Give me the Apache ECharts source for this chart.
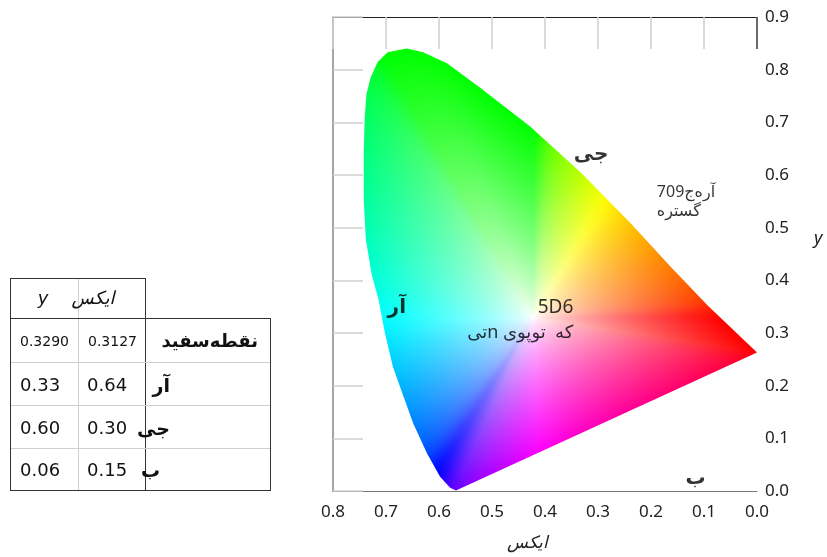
<!DOCTYPE html>
<html>
<head>
<meta charset="utf-8">
<script src="https://cdn.jsdelivr.net/npm/echarts@6/dist/echarts.min.js"></script>
<style>
  html, body { margin: 0; padding: 0; background: #fff; }
  #chart { position: absolute; left: 0; top: 0; width: 827px; height: 557px; direction: rtl; }
  #table { position: absolute; left: 0; top: 0; width: 827px; height: 557px; pointer-events: none;
           font-family: "DejaVu Sans", sans-serif; color: #111; }
  .ln { position: absolute; }
  .t { position: absolute; white-space: nowrap; height: 30px; line-height: 30px; }
</style>
</head>
<body>
<div id="chart"></div>
<div id="table"></div>
<script>
// Outline of the colour region (x as shown on the reversed axis, y upward)
const locusX = [0.000, 0.093, 0.163, 0.238, 0.333, 0.428, 0.523, 0.585, 0.630, 0.661,
                0.697, 0.716, 0.729, 0.737, 0.740, 0.742, 0.742, 0.738, 0.727, 0.714,
                0.702, 0.687, 0.670, 0.649, 0.623, 0.598, 0.579, 0.568];
const locusY = [0.263, 0.352, 0.426, 0.508, 0.605, 0.692, 0.766, 0.812, 0.833, 0.840,
                0.833, 0.814, 0.785, 0.753, 0.711, 0.648, 0.553, 0.477, 0.411, 0.363,
                0.300, 0.236, 0.188, 0.129, 0.072, 0.027, 0.006, 0.001];
// Where the colour field turns white
const fillCentre = [0.4223, 0.329];

// Primaries and white point
const primaryNames = ['آر', 'جی', 'ب'];
const primaryX = [0.64, 0.30, 0.15];
const primaryY = [0.33, 0.60, 0.06];
const whitePoint = [0.3127, 0.3290];
const whiteLabels = ['5D6', 'که  توپوی nتی'];
const gamutLabels = ['آره‌ج709', 'گستره'];
const gamutNoteAt = [0.189, 0.55];
const tableTitle = 'نقطه‌سفید';
const colHeadX = 'ایکس';
const colHeadY = 'y';

// The colour field is laid out from the red tip, so its chromaticity x is measured back from there.
const RED_TIP_X = 0.735;
function tint(v, y) {
  const cx = RED_TIP_X - v, cy = Math.max(y, 0.002);
  const X = cx / cy, Z = (1 - cx - cy) / cy;
  let r = 3.2406 * X - 1.5372 - 0.4986 * Z;
  let g = -0.9689 * X + 1.8758 + 0.0415 * Z;
  let b = 0.0557 * X - 0.2040 + 1.0570 * Z;
  r = Math.max(r, 0); g = Math.max(g, 0); b = Math.max(b, 0);
  const m = Math.max(r, g, b) || 1;
  return [r, g, b].map(c => 255 * Math.pow(c / m, 1 / 2.2));
}
function lerp(a, b, t) { return [a[0] + (b[0] - a[0]) * t, a[1] + (b[1] - a[1]) * t]; }

// Soften sudden hue changes along the rim
function smoothRing(cols, half) {
  const n = cols.length;
  return cols.map((_, k) => {
    const acc = [0, 0, 0];
    let wsum = 0;
    for (let d = -half; d <= half; d++) {
      const w = half + 1 - Math.abs(d);
      const c = cols[(k + d + n) % n];
      acc[0] += c[0] * w; acc[1] += c[1] * w; acc[2] += c[2] * w;
      wsum += w;
    }
    return acc.map(v => v / wsum);
  });
}

// Paints the colour field: each pixel blends from white at the centre to the rim colour
// met by the ray through it.
let fieldCache = null;
function paintField(ring, cols, pc, w, h) {
  const key = ring.length + ':' + pc.join(',') + ':' + w + 'x' + h;
  if (fieldCache && fieldCache.key === key) return fieldCache.canvas;
  const N = 7200, TWO_PI = Math.PI * 2;
  const binR = new Float32Array(N), binC = new Float32Array(N * 3);
  const ang = ring.map(p => Math.atan2(p[1] - pc[1], p[0] - pc[0]));
  const rad = ring.map(p => Math.hypot(p[0] - pc[0], p[1] - pc[1]));
  const toBin = a => ((a + Math.PI) / TWO_PI) * N;
  for (let k = 0; k < ring.length; k++) {
    const k2 = (k + 1) % ring.length;
    let d = ang[k2] - ang[k];
    if (d > Math.PI) d -= TWO_PI;
    if (d < -Math.PI) d += TWO_PI;
    const b0 = toBin(ang[k]), b1 = b0 + d / TWO_PI * N;
    const lo = Math.ceil(Math.min(b0, b1)), hi = Math.floor(Math.max(b0, b1));
    for (let b = lo; b <= hi; b++) {
      const s = (b1 === b0) ? 0 : (b - b0) / (b1 - b0);
      const idx = ((b % N) + N) % N;
      binR[idx] = rad[k] + (rad[k2] - rad[k]) * s;
      for (let c = 0; c < 3; c++) binC[idx * 3 + c] = cols[k][c] + (cols[k2][c] - cols[k][c]) * s;
    }
  }
  const canvas = document.createElement('canvas');
  canvas.width = w; canvas.height = h;
  const ctx = canvas.getContext('2d');
  const img = ctx.createImageData(w, h);
  const xs = ring.map(p => p[0]), ys = ring.map(p => p[1]);
  const x0 = Math.max(0, Math.floor(Math.min(...xs)) - 2), x1 = Math.min(w - 1, Math.ceil(Math.max(...xs)) + 2);
  const y0 = Math.max(0, Math.floor(Math.min(...ys)) - 2), y1 = Math.min(h - 1, Math.ceil(Math.max(...ys)) + 2);
  for (let py = y0; py <= y1; py++) {
    for (let px = x0; px <= x1; px++) {
      const dx = px + 0.5 - pc[0], dy = py + 0.5 - pc[1];
      const idx = ((Math.round(toBin(Math.atan2(dy, dx))) % N) + N) % N;
      const R = binR[idx] || 1;
      const t = Math.min(1, Math.hypot(dx, dy) / R);
      const k = Math.pow(t, 0.75);
      const o = (py * w + px) * 4;
      img.data[o] = 255 + (binC[idx * 3] - 255) * k;
      img.data[o + 1] = 255 + (binC[idx * 3 + 1] - 255) * k;
      img.data[o + 2] = 255 + (binC[idx * 3 + 2] - 255) * k;
      img.data[o + 3] = 255;
    }
  }
  ctx.putImageData(img, 0, 0);
  fieldCache = { key, canvas };
  return canvas;
}

function renderField(params, api) {
  const n = locusX.length;
  const outline = [], ring = [], cols = [];
  for (let i = 0; i < n; i++) {
    const a = [locusX[i], locusY[i]], b = [locusX[(i + 1) % n], locusY[(i + 1) % n]];
    const pa = api.coord(a), pb = api.coord(b);
    outline.push(pa);
    const steps = Math.max(1, Math.ceil(Math.hypot(pb[0] - pa[0], pb[1] - pa[1]) / 2));
    for (let s = 0; s < steps; s++) {
      const q = lerp(a, b, s / steps);
      ring.push(api.coord(q));
      cols.push(tint(q[0], q[1]));
    }
  }
  const pc = api.coord(fillCentre);
  const canvas = paintField(ring, smoothRing(cols, 7), pc, api.getWidth(), api.getHeight());
  return {
    type: 'polygon',
    shape: { points: outline },
    style: { fill: { image: canvas, repeat: 'no-repeat' }, stroke: null }
  };
}

const fmt1 = v => v.toFixed(1);
const FONT = '"Noto Sans", "DejaVu Sans", sans-serif';

const chart = echarts.init(document.getElementById('chart'), null, { renderer: 'canvas' });
chart.setOption({
  animation: false,
  backgroundColor: '#fff',
  textStyle: { fontFamily: FONT },
  grid: { left: 333, top: 17, width: 424, height: 474, outerBoundsMode: 'none' },
  xAxis: [
    {
      type: 'value', min: 0, max: 0.8, interval: 0.1, inverse: true, position: 'bottom',
      axisLine: { show: true, onZero: false, lineStyle: { color: '#777', width: 1 } },
      axisTick: { show: false }, splitLine: { show: false },
      axisLabel: { fontSize: 17, color: '#222', margin: 13, formatter: fmt1, fontFamily: FONT },
      name: 'ایکس', nameLocation: 'middle', nameGap: 44,
      nameTextStyle: { fontSize: 17, fontStyle: 'italic', color: '#222', padding: [0, 36, 0, 0], fontFamily: FONT }
    },
    {
      type: 'value', min: 0, max: 0.8, interval: 0.1, inverse: true, position: 'top',
      axisLine: { show: true, onZero: false, lineStyle: { color: '#222', width: 1.2 } },
      axisTick: { show: true, inside: true, length: 32, lineStyle: { color: '#d0d0d0', width: 1.5 } },
      axisLabel: { show: false }, splitLine: { show: false }
    }
  ],
  yAxis: [
    {
      type: 'value', min: 0, max: 0.9, interval: 0.1, position: 'left',
      axisLine: { show: true, onZero: false, lineStyle: { color: '#888', width: 1.5 } },
      axisTick: { show: true, inside: true, length: 30, lineStyle: { color: '#d0d0d0', width: 1.5 } },
      axisLabel: { show: false }, splitLine: { show: false }
    },
    {
      type: 'value', min: 0, max: 0.9, interval: 0.1, position: 'right',
      axisLine: { show: false }, axisTick: { show: false }, splitLine: { show: false },
      axisLabel: { fontSize: 17, color: '#222', margin: 8, formatter: fmt1, fontFamily: FONT },
      name: 'y', nameLocation: 'middle', nameGap: 57, nameRotate: 0,
      nameTextStyle: { fontSize: 18, fontStyle: 'italic', color: '#222', verticalAlign: 'bottom',
                       lineHeight: 30, fontFamily: FONT }
    }
  ],
  series: [
    {
      type: 'custom', silent: true, xAxisIndex: 0, yAxisIndex: 0,
      renderItem: renderField,
      data: [fillCentre]
    },
    {
      type: 'scatter', silent: true, symbolSize: 0, xAxisIndex: 0, yAxisIndex: 0,
      label: { show: true, position: 'inside', fontSize: 20, fontWeight: 'bold', color: '#000',
               textBorderWidth: 0, fontFamily: FONT },
      data: primaryNames.map((name, i) => ({
        value: [primaryX[i], primaryY[i]],
        label: { formatter: name, offset: [[-21, -10], [-7, -21], [18, 19]][i] }
      }))
    },
    {
      type: 'scatter', silent: true, symbolSize: 0, xAxisIndex: 0, yAxisIndex: 0,
      label: { show: true, position: 'inside', align: 'right', color: '#000', textBorderWidth: 0, fontFamily: FONT },
      data: [
        { value: whitePoint, label: { formatter: whiteLabels[0], fontSize: 19, offset: [-18, -10] } },
        { value: whitePoint, label: { formatter: whiteLabels[1], fontSize: 18, offset: [-18, 15] } }
      ]
    },
    {
      type: 'scatter', silent: true, symbolSize: 0, xAxisIndex: 0, yAxisIndex: 0,
      label: { show: true, position: 'inside', align: 'left', fontSize: 16, color: '#000', textBorderWidth: 0, fontFamily: FONT },
      data: [
        { value: gamutNoteAt, label: { formatter: gamutLabels[0], offset: [0, -9] } },
        { value: gamutNoteAt, label: { formatter: gamutLabels[1], offset: [0, 10] } }
      ]
    }
  ]
});

// Dark corner stub where the frame meets x = 0.0 at the top
const stubX = chart.convertToPixel({ xAxisIndex: 0 }, 0);
const stubY = chart.convertToPixel({ yAxisIndex: 0 }, 0.9);
chart.setOption({
  graphic: [{
    type: 'line', silent: true, z: 10,
    shape: { x1: stubX, y1: stubY, x2: stubX, y2: stubY + 32 },
    style: { stroke: '#222', lineWidth: 1.2 }
  }]
});

// Primaries table
const tbl = document.getElementById('table');
function rule(x, y, w, h, c) {
  const d = document.createElement('div');
  d.className = 'ln';
  Object.assign(d.style, { left: x + 'px', top: y + 'px', width: w + 'px', height: h + 'px', background: c });
  tbl.appendChild(d);
}
function cell(str, x, cy, opt) {
  const d = document.createElement('div');
  d.className = 't';
  d.textContent = str;
  d.dir = opt.rtl ? 'rtl' : 'ltr';
  d.style.fontSize = opt.size + 'px';
  if (opt.bold) d.style.fontWeight = 'bold';
  if (opt.italic) d.style.fontStyle = 'italic';
  d.style.top = (cy - 15) + 'px';
  if (opt.align === 'right') { d.style.right = (827 - x) + 'px'; }
  else if (opt.align === 'center') { d.style.left = x + 'px'; d.style.transform = 'translateX(-50%)'; }
  else { d.style.left = x + 'px'; }
  tbl.appendChild(d);
}
const DARK = '#333', LIGHT = '#cfcfcf';
// header box
rule(10, 278, 136, 1, DARK); rule(10, 278, 1, 40, DARK); rule(145, 278, 1, 40, DARK);
rule(78, 279, 1, 39, LIGHT);
// body box
rule(10, 318, 261, 1, DARK); rule(10, 490, 261, 1, DARK);
rule(10, 318, 1, 173, DARK); rule(270, 318, 1, 173, DARK); rule(145, 318, 1, 173, DARK);
rule(78, 319, 1, 171, LIGHT);
[362, 405, 448].forEach(y => rule(11, y, 259, 1, LIGHT));

cell(colHeadY, 43, 298, { size: 18, italic: true, align: 'center' });
cell(colHeadX, 93, 298, { size: 18, italic: true, align: 'center', rtl: true });
cell(whitePoint[1].toFixed(4), 20, 341, { size: 14 });
cell(whitePoint[0].toFixed(4), 88, 341, { size: 14 });
cell(tableTitle, 258, 341, { size: 18, bold: true, align: 'right', rtl: true });
const rowMid = [385, 428, 470];
const nameRight = [170, 170, 160];
primaryNames.forEach((name, i) => {
  cell(primaryY[i].toFixed(2), 20, rowMid[i], { size: 18 });
  cell(primaryX[i].toFixed(2), 87, rowMid[i], { size: 18 });
  cell(name, nameRight[i], rowMid[i], { size: 19, bold: true, align: 'right', rtl: true });
});
</script>
</body>
</html>
